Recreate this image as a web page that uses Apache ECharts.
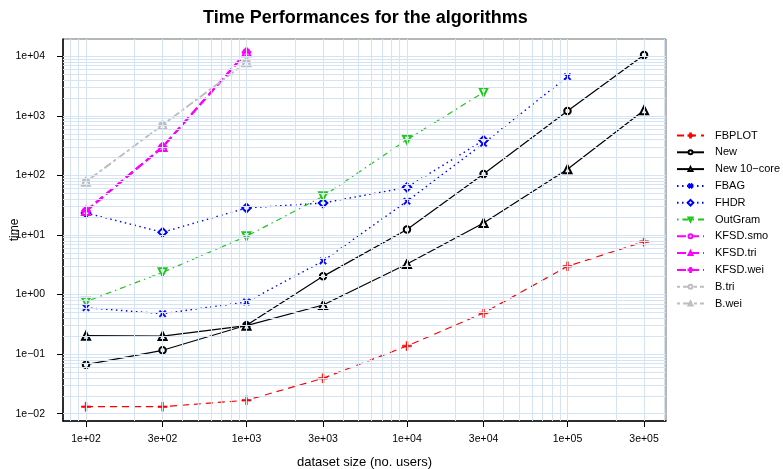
<!DOCTYPE html>
<html>
<head>
<meta charset="utf-8">
<title>Time Performances for the algorithms</title>
<script src="https://cdn.jsdelivr.net/npm/echarts@6/dist/echarts.min.js"></script>
<style>
  html, body { margin: 0; padding: 0; background: #fff; }
  #chart { width: 783px; height: 469px; }
</style>
</head>
<body>
<div id="chart"></div>
<script>
// Dataset sizes (number of users) on the x axis
const sizes = [100, 300, 1000, 3000, 10000, 30000, 100000, 300000];

// Running times per algorithm (seconds), one value per dataset size
const fbplot    = [0.0131, 0.0131, 0.0168, 0.0393, 0.137, 0.49, 2.98, 7.72];
const newAlg    = [0.0665, 0.116, 0.305, 2.02, 12.4, 105.7, 1205, 10500];
const new10core = [0.204, 0.201, 0.30, 0.668, 3.26, 15.9, 127, 1239];
const fbag      = [0.602, 0.477, 0.75, 3.66, 36.8, 346, 4540];
const fhdr      = [23.5, 11.1, 28.4, 34.4, 63.1, 388];
const outgram   = [0.76, 2.36, 9.5, 44.6, 398, 2485];
const kfsdSmo   = [25.3, 300, 11670];
const kfsdTri   = [25.3, 300, 11670];
const kfsdWei   = [25.3, 300, 11670];
const bTri      = [78.5, 702, 7920];
const bWei      = [78.5, 702, 7920];

// Tick labels
const xTicks = [100, 300, 1000, 3000, 10000, 30000, 100000, 300000];
const yTicks = [0.01, 0.1, 1, 10, 100, 1000, 10000];

const FONT = '"Liberation Sans", Arial, Helvetica, sans-serif';

// Axis extents (raw units, log scales)
const X_MIN = 71.9, X_MAX = 411000;
const Y_MIN = 0.00754, Y_MAX = 19500;

// Scientific labels in the "1e+02" style
function sciLabel(v) {
  const e = Math.floor(Math.log10(v) + 1e-9);
  const m = Math.round(v / Math.pow(10, e));
  return m + 'e' + (e < 0 ? '\u2212' : '+') + String(Math.abs(e)).padStart(2, '0');
}

// 1..9 × 10^k values that fall inside an extent, for the background grid
function logGrid(lo, hi) {
  const out = [];
  for (let k = Math.floor(Math.log10(lo)); k <= Math.ceil(Math.log10(hi)); k++) {
    for (let m = 1; m <= 9; m++) {
      const v = m * Math.pow(10, k);
      if (v > lo && v < hi) out.push(v);
    }
  }
  return out;
}

const gridColor = '#d5e3f3';
const gridLines = logGrid(X_MIN, X_MAX).map(v => ({ xAxis: v }))
  .concat(logGrid(Y_MIN, Y_MAX).map(v => ({ yAxis: v })));

// Filled plus-shaped marker (rotated 45° for the cross)
const PLUS = 'path://M4.1,0H5.9V4.1H10V5.9H5.9V10H4.1V5.9H0V4.1H4.1Z';

function pairs(vals) {
  return vals.map((v, i) => [sizes[i], v]);
}

function lineSeries(name, vals, color, width, dash, symbol, size, rotate, border) {
  return {
    name: name,
    type: 'line',
    data: pairs(vals),
    symbol: symbol,
    symbolSize: size,
    symbolRotate: rotate || 0,
    showAllSymbol: true,
    lineStyle: { color: color, width: width, type: dash },
    itemStyle: { color: color, borderColor: color, borderWidth: border == null ? 1 : border },
    emphasis: { disabled: true },
    z: 3
  };
}

const series = [
  {
    name: 'grid',
    type: 'line',
    data: [],
    silent: true,
    z: 1,
    markLine: {
      silent: true,
      symbol: ['none', 'none'],
      label: { show: false },
      lineStyle: { color: gridColor, width: 1, type: 'solid' },
      emphasis: { disabled: true },
      animation: false,
      data: gridLines
    }
  },
  lineSeries('FBPLOT', fbplot, '#ff0000', 1.2, [7, 5], PLUS, 9, 0, 0.6),
  lineSeries('New', newAlg, '#000000', 1.2, 'solid', 'emptyCircle', 6.5),
  lineSeries('New 10\u2212core', new10core, '#000000', 1.2, 'solid', 'emptyTriangle', 8),
  lineSeries('FBAG', fbag, '#0000ff', 1.4, [1.5, 3.5], PLUS, 8.5, 45, 0.5),
  lineSeries('FHDR', fhdr, '#0000ff', 1.4, [1.5, 3.5], 'emptyRect', 6, 45),
  lineSeries('OutGram', outgram, '#1cc81c', 1.2, [1.5, 4, 6, 4], 'emptyTriangle', 8, 180),
  lineSeries('KFSD.smo', kfsdSmo, '#ff00ff', 2, [9, 4], 'emptyCircle', 6.5),
  lineSeries('KFSD.tri', kfsdTri, '#ff00ff', 2, [9, 4], 'emptyTriangle', 8),
  lineSeries('KFSD.wei', kfsdWei, '#ff00ff', 2, [9, 4], PLUS, 9, 0, 0.6),
  lineSeries('B.tri', bTri, '#bebebe', 1.6, [3, 3, 8, 3], 'emptyCircle', 6.5),
  lineSeries('B.wei', bWei, '#bebebe', 1.6, [3, 3, 8, 3], 'emptyTriangle', 8)
];

const chart = echarts.init(document.getElementById('chart'), null, { renderer: 'canvas' });

chart.setOption({
  animation: false,
  backgroundColor: '#ffffff',
  title: {
    text: 'Time Performances for the algorithms',
    left: 198,
    top: 4,
    textStyle: { fontFamily: FONT, fontSize: 18, fontWeight: 'bold', color: '#000' }
  },
  grid: {
    left: 63, right: 117, top: 39, bottom: 48,
    containLabel: false,
    outerBoundsMode: 'none',
    show: true,
    borderColor: '#6e6e6e',
    borderWidth: 1,
    backgroundColor: 'transparent'
  },
  legend: {
    orient: 'vertical',
    left: 671,
    top: 125,
    itemWidth: 27,
    itemHeight: 5,
    itemGap: 5.8,
    selectedMode: false,
    data: ['FBPLOT', 'New', 'New 10\u2212core', 'FBAG', 'FHDR', 'OutGram',
           'KFSD.smo', 'KFSD.tri', 'KFSD.wei', 'B.tri', 'B.wei'],
    textStyle: { fontFamily: FONT, fontSize: 11, color: '#000', padding: [0, 0, 0, 6] }
  },
  xAxis: {
    type: 'log',
    min: X_MIN,
    max: X_MAX,
    name: 'dataset size (no. users)',
    nameLocation: 'middle',
    nameGap: 35,
    nameMoveOverlap: false,
    nameTextStyle: { fontFamily: FONT, fontSize: 13, color: '#000' },
    axisLine: { show: true, onZero: false, lineStyle: { color: '#000', width: 1.5 } },
    axisTick: { show: true, length: 6, customValues: xTicks, lineStyle: { color: '#000', width: 1 } },
    axisLabel: {
      customValues: xTicks,
      margin: 13,
      fontFamily: FONT, fontSize: 10.5, color: '#000',
      formatter: v => sciLabel(v)
    },
    splitLine: { show: false },
    minorTick: { show: false },
    minorSplitLine: { show: false }
  },
  yAxis: {
    type: 'log',
    min: Y_MIN,
    max: Y_MAX,
    name: 'time',
    nameLocation: 'middle',
    nameGap: 42,
    nameMoveOverlap: false,
    nameTextStyle: { fontFamily: FONT, fontSize: 12, color: '#000' },
    axisLine: { show: true, onZero: false, lineStyle: { color: '#000', width: 1.5 } },
    axisTick: { show: true, length: 6, customValues: yTicks, lineStyle: { color: '#000', width: 1 } },
    axisLabel: {
      customValues: yTicks,
      margin: 18,
      fontFamily: FONT, fontSize: 10.5, color: '#000',
      formatter: v => sciLabel(v)
    },
    splitLine: { show: false },
    minorTick: { show: false },
    minorSplitLine: { show: false }
  },
  series: series
});
</script>
</body>
</html>
